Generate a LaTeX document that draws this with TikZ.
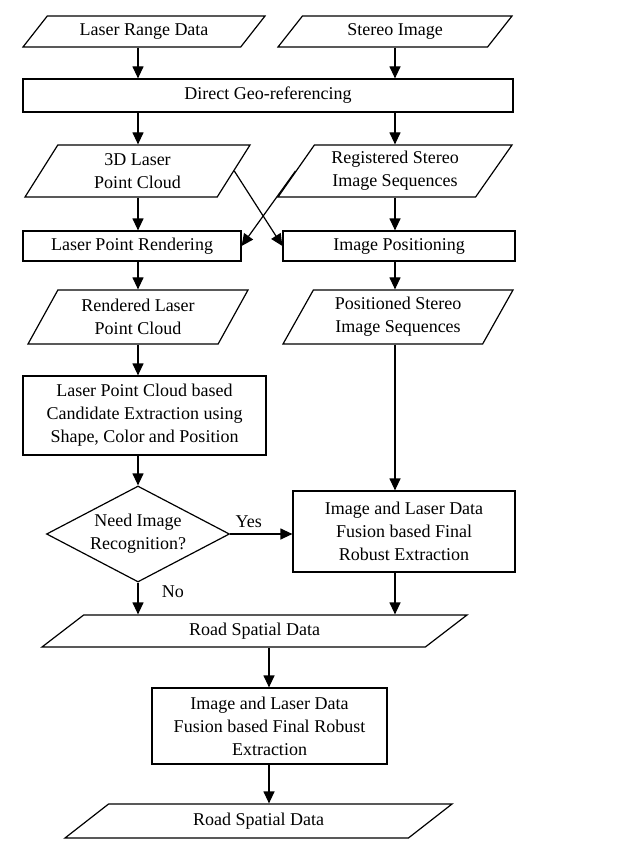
\documentclass[tikz,border=0pt]{standalone}
\usepackage{fontspec}
\setmainfont{Liberation Serif}
\usepackage{tikz}
\usetikzlibrary{arrows.meta,shapes.geometric,positioning}

\tikzset{
  base/.style={draw, line width=1.2pt, font=\fontsize{18}{23}\selectfont, align=center, inner sep=2pt},
  procbox/.style={base, rectangle},
  databox/.style={base, trapezium, trapezium left angle=#1, trapezium right angle=\the\numexpr180-#1\relax, trapezium stretches body},
  decbox/.style={base, diamond, aspect=2, inner xsep=-12pt, inner ysep=-8pt},
  flow/.style={-{Triangle[length=12pt,width=11pt]}, line width=1.2pt},
  lbl/.style={font=\fontsize{18}{23}\selectfont}
}

\begin{document}
\begin{tikzpicture}[x=1pt,y=-1pt]
  \useasboundingbox (0,0) rectangle (634,851);
  % column lines
  \coordinate (L) at (138,0);
  \coordinate (R) at (395,0);
  \coordinate (M) at (269,0);

  \node (lrd)  [databox=39, minimum width=242, minimum height=31] at (144,31.5) {Laser Range Data};
  \node (si)   [databox=39, minimum width=234, minimum height=31] at (395,31.5) {Stereo Image};
  \node (geo)  [procbox, minimum width=490, minimum height=33] at (268,95.5) {Direct Geo-referencing};
  \node (plc)  [databox=50, minimum width=225, minimum height=52] at (137.5,171) {3D Laser\\Point Cloud};
  \node (rss)  [databox=50, minimum width=234, minimum height=52] at (395,171) {Registered Stereo\\Image Sequences};
  \node (lpr)  [procbox, minimum width=218, minimum height=30] at (132,246) {Laser Point Rendering};
  \node (ipos) [procbox, minimum width=232, minimum height=30] at (399,246) {Image Positioning};
  \node (rlpc) [databox=53, minimum width=220, minimum height=54] at (138,317) {Rendered Laser\\Point Cloud};
  \node (pss)  [databox=55, minimum width=230, minimum height=54] at (398,317) {Positioned Stereo\\Image Sequences};
  \node (cand) [procbox, minimum width=243, minimum height=79] at (144.5,415.5) {Laser Point Cloud based\\Candidate Extraction using\\Shape, Color and Position};
  \node (need) [decbox, minimum width=183, minimum height=96] at (138,534) {Need Image\\Recognition?};
  \node (fus)  [procbox, minimum width=222, minimum height=81] at (404,531.5) {Image and Laser Data\\Fusion based Final\\Robust Extraction};
  \node (rsd)  [databox=26, minimum width=425, minimum height=32] at (254.5,631) {Road Spatial Data};
  \node (fin)  [procbox, minimum width=235, minimum height=76] at (269.5,726) {Image and Laser Data\\Fusion based Final Robust\\Extraction};
  \node (out)  [databox=25, minimum width=387, minimum height=34] at (258.5,821) {Road Spatial Data};

  \draw[flow] (lrd.south -| L) -- (geo.north -| L);
  \draw[flow] (si.south -| R) -- (geo.north -| R);
  \draw[flow] (geo.south -| L) -- (plc.north -| L);
  \draw[flow] (geo.south -| R) -- (rss.north -| R);
  \draw[flow] (plc.south -| L) -- (lpr.north -| L);
  \draw[flow] (rss.south -| R) -- (ipos.north -| R);
  \draw[flow] (plc.east) -- (ipos.west);
  \draw[flow] (rss.west) -- (lpr.east);
  \draw[flow] (lpr.south -| L) -- (rlpc.north -| L);
  \draw[flow] (ipos.south -| R) -- (pss.north -| R);
  \draw[flow] (rlpc.south -| L) -- (cand.north -| L);
  \draw[flow] (pss.south -| R) -- (fus.north -| R);
  \draw[flow] (cand.south -| L) -- (need.north);
  \draw[flow] (need.east) -- node[lbl, above=2pt, pos=0.3] {Yes} (fus.west |- need.east);
  \draw[flow] (need.south) -- node[lbl, right=20pt, pos=0.3] {No} (rsd.north -| L);
  \draw[flow] (fus.south -| R) -- (rsd.north -| R);
  \draw[flow] (rsd.south -| M) -- (fin.north -| M);
  \draw[flow] (fin.south -| M) -- (out.north -| M);
\end{tikzpicture}
\end{document}
